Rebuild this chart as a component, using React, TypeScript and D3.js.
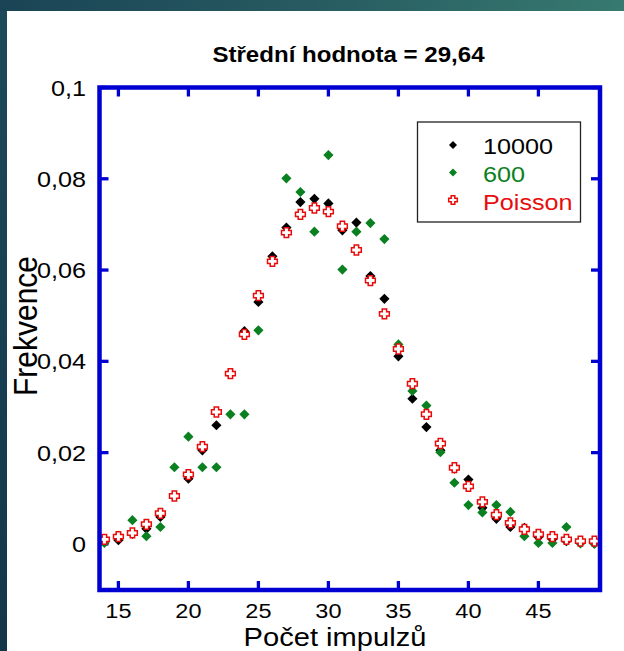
import React from "react";
import * as d3 from "d3";

// Pulse-count distribution: relative frequency for each count value
const counts = [14, 15, 16, 17, 18, 19, 20, 21, 22, 23, 24, 25, 26, 27, 28, 29, 30, 31, 32, 33, 34, 35, 36, 37, 38, 39, 40, 41, 42, 43, 44, 45, 46, 47, 48, 49];

const freq10000 = [0.0008, 0.0008, 0.0022, 0.0033, 0.0059, 0.0105, 0.0143, 0.0205, 0.026, 0.0373, 0.0466, 0.053, 0.063, 0.0693, 0.0749, 0.0756, 0.0746, 0.0687, 0.0704, 0.0587, 0.0537, 0.0411, 0.0318, 0.0256, 0.0205, 0.0165, 0.0141, 0.0079, 0.0055, 0.0037, 0.0035, 0.0015, 0.001, 0.0006, 0.0003, 0.0002];

const freq600 = [0.0002, 0.0018, 0.0052, 0.0017, 0.0037, 0.0168, 0.0235, 0.0168, 0.0168, 0.0284, 0.0284, 0.0468, 0.062, 0.0801, 0.0771, 0.0684, 0.0852, 0.0601, 0.0684, 0.0703, 0.0668, 0.0437, 0.0335, 0.0303, 0.0201, 0.0134, 0.0085, 0.0069, 0.0085, 0.007, 0.0017, 0.0002, 0.0002, 0.0037, 0.0001, 0.0];

const freqPoisson = [0.001, 0.0016, 0.0024, 0.0043, 0.0067, 0.0105, 0.0152, 0.0213, 0.0289, 0.0373, 0.0459, 0.0544, 0.0619, 0.0682, 0.0722, 0.0736, 0.0728, 0.0696, 0.0644, 0.0577, 0.0504, 0.0427, 0.0351, 0.0284, 0.022, 0.0167, 0.0126, 0.0092, 0.0064, 0.0046, 0.0032, 0.0021, 0.0016, 0.001, 0.0006, 0.0006];

const xTicks = [15, 20, 25, 30, 35, 40, 45];
const yTicks = [0, 0.02, 0.04, 0.06, 0.08, 0.1];
const yTickLabels = ["0", "0,02", "0,04", "0,06", "0,08", "0,1"];

const seriesNames = ["10000", "600", "Poisson"];
const titleText = "Střední hodnota = 29,64";
const xTitle = "Počet impulzů";
const yTitle = "Frekvence";

const W = 624;
const H = 651;
const FONT = "'Liberation Sans', Arial, sans-serif";
const BLUE = "#0000d2";
const BLACK = "#000000";
const GREEN = "#0a8020";
const RED = "#e80c0c";
const SX = 1.12; // horizontal text stretch

const x = d3.scaleLinear().domain([13.65, 49.4]).range([99.5, 600]);
const y = d3.scaleLinear().domain([-0.0101, 0.1]).range([590, 87.5]);

function diamond(r: number) {
  return `M0,${-r}L${r},0L0,${r}L${-r},0Z`;
}

function cross(a: number, L: number) {
  return `M${-a},${-L}H${a}V${-a}H${L}V${a}H${a}V${L}H${-a}V${a}H${-L}V${-a}H${-a}Z`;
}

type TProps = {
  x: number;
  y: number;
  size: number;
  anchor?: "start" | "middle" | "end";
  weight?: string;
  fill?: string;
  rotate?: number;
  children: React.ReactNode;
};

function T({ x: tx, y: ty, size, anchor = "start", weight = "normal", fill = "#000", rotate = 0, children }: TProps) {
  return (
    <text
      transform={`translate(${tx},${ty}) scale(${SX},1)${rotate ? ` rotate(${rotate})` : ""}`}
      fontFamily={FONT}
      fontSize={size}
      fontWeight={weight}
      textAnchor={anchor}
      fill={fill}
    >
      {children}
    </text>
  );
}

export default function App() {
  const [x0, x1] = x.range();
  const [y0, y1] = y.range();
  const tickLen = 9;

  const series = [
    { name: seriesNames[0], values: freq10000, color: BLACK, kind: "diamond" },
    { name: seriesNames[1], values: freq600, color: GREEN, kind: "diamond" },
    { name: seriesNames[2], values: freqPoisson, color: RED, kind: "cross" },
  ];

  const legendX = 417.5;
  const legendY = 122;
  const legendRows = [145, 172.5, 200];
  const legendBase = [153.5, 181.5, 209.5];

  return (
    <svg
      width={W}
      height={H}
      viewBox={`0 0 ${W} ${H}`}
      style={{ position: "absolute", left: 0, top: 0, display: "block" }}
    >
      <defs>
        <linearGradient id="topBand" x1="0" y1="0" x2="1" y2="0">
          <stop offset="0" stopColor="#1a4455" />
          <stop offset="0.5" stopColor="#275b61" />
          <stop offset="1" stopColor="#377a70" />
        </linearGradient>
        <linearGradient id="leftBand" x1="0" y1="0" x2="0" y2="1">
          <stop offset="0" stopColor="#1c4a5a" />
          <stop offset="1" stopColor="#13364a" />
        </linearGradient>
      </defs>

      {/* page backdrop */}
      <rect x={0} y={0} width={W} height={H} fill="#ffffff" />
      <rect x={0} y={0} width={7} height={H} fill="url(#leftBand)" />
      <rect x={0} y={0} width={W} height={11} fill="url(#topBand)" />

      {/* title */}
      <T x={348.5} y={62} size={21.5} anchor="middle" weight="bold">
        {titleText}
      </T>

      {/* ticks on all four sides, pointing inward */}
      <g stroke={BLUE} strokeWidth={3.3}>
        {xTicks.map((t) => (
          <g key={`xt${t}`}>
            <line x1={x(t)} x2={x(t)} y1={y0} y2={y0 - tickLen} />
            <line x1={x(t)} x2={x(t)} y1={y1} y2={y1 + tickLen} />
          </g>
        ))}
        {yTicks.map((t) => (
          <g key={`yt${t}`}>
            <line x1={x0} x2={x0 + tickLen} y1={y(t)} y2={y(t)} />
            <line x1={x1} x2={x1 - tickLen} y1={y(t)} y2={y(t)} />
          </g>
        ))}
      </g>

      {/* tick labels */}
      {xTicks.map((t) => (
        <T key={`xl${t}`} x={x(t)} y={617.5} size={21} anchor="middle">
          {String(t)}
        </T>
      ))}
      {yTicks.map((t, i) => (
        <T key={`yl${t}`} x={86} y={y(t) + 8} size={22.5} anchor="end">
          {yTickLabels[i]}
        </T>
      ))}

      {/* axis titles */}
      <T x={335} y={645.5} size={26} anchor="middle">
        {xTitle}
      </T>
      <T x={37} y={326} size={30} anchor="middle" rotate={-90}>
        {yTitle}
      </T>

      {/* data points */}
      {series.map((s) => (
        <g key={s.name}>
          {s.values.map((v, i) =>
            s.kind === "diamond" ? (
              <path
                key={i}
                d={diamond(5.1)}
                transform={`translate(${x(counts[i])},${y(v)})`}
                fill={s.color}
              />
            ) : (
              <path
                key={i}
                d={cross(2.2, 4.9)}
                transform={`translate(${x(counts[i])},${y(v)})`}
                fill="#ffffff"
                stroke={s.color}
                strokeWidth={1.5}
              />
            )
          )}
        </g>
      ))}

      {/* legend */}
      <rect x={legendX} y={legendY} width={163} height={100} fill="#ffffff" stroke="#222" strokeWidth={1.3} />
      {series.map((s, i) => (
        <g key={`lg${s.name}`}>
          {s.kind === "diamond" ? (
            <path d={diamond(4)} transform={`translate(453,${legendRows[i]})`} fill={s.color} />
          ) : (
            <path
              d={cross(1.8, 4.3)}
              transform={`translate(453,${legendRows[i]})`}
              fill="#ffffff"
              stroke={s.color}
              strokeWidth={1.5}
            />
          )}
          <T x={483} y={legendBase[i]} size={22.5} fill={s.color}>
            {s.name}
          </T>
        </g>
      ))}

      {/* plot frame */}
      <rect x={x0} y={y1} width={x1 - x0} height={y0 - y1} fill="none" stroke={BLUE} strokeWidth={4.5} />
    </svg>
  );
}
